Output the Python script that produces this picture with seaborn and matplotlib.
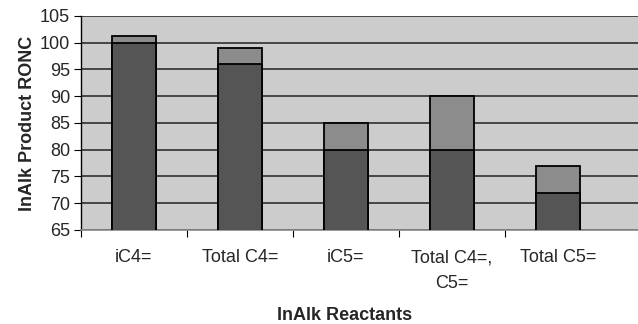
import matplotlib
matplotlib.use("Agg")
import matplotlib.pyplot as plt
import seaborn as sns
import pandas as pd
from matplotlib.ticker import FixedLocator

categories = ["iC4=", "Total C4=", "iC5=", "Total C4=,\nC5=", "Total C5="]
base_values = [100, 96, 80, 80, 72]
top_values = [101.3, 99, 85, 90, 77]

sns.set_style("white")
plt.rcParams['font.family'] = ['Liberation Sans', 'DejaVu Sans']

df = pd.DataFrame({"cat": categories, "base": base_values, "top": top_values})

fig = plt.figure(figsize=(6.38, 3.24), dpi=100)
ax = fig.add_axes([81/638, 1 - 230/324, (638 - 81)/638, (230 - 16)/324])
ax.set_facecolor("#cccccc")

sns.barplot(data=df, x="cat", y="top", color="#8c8c8c", saturation=1, width=0.41,
            edgecolor="black", linewidth=1.3, ax=ax, zorder=3)
sns.barplot(data=df, x="cat", y="base", color="#555555", saturation=1, width=0.41,
            edgecolor="black", linewidth=1.3, ax=ax, zorder=4)

ax.set_ylim(65, 105)
ax.set_xlim(-0.5, -0.5 + 557/106)
ax.set_yticks(range(65, 106, 5))
ax.yaxis.grid(True, color="#222222", linewidth=1.1, zorder=1)
ax.set_axisbelow(True)

ax.xaxis.set_minor_locator(FixedLocator([-0.5, 0.5, 1.5, 2.5, 3.5]))
ax.tick_params(axis="x", which="major", length=0, labelsize=13, pad=14)
ax.tick_params(axis="x", which="minor", length=5, width=0.8, color="black", direction="out", bottom=True)
ax.tick_params(axis="y", length=5, width=0.8, color="black", direction="out", labelsize=13, pad=3, left=True)
for lbl in ax.get_xticklabels():
    lbl.set_linespacing(1.62)

for s in ["top", "right"]:
    ax.spines[s].set_visible(False)
ax.spines["left"].set_color("black")
ax.spines["left"].set_linewidth(1)
ax.spines["bottom"].set_color("#888888")
ax.spines["bottom"].set_linewidth(1.2)

ax.set_xlabel("InAlk Reactants", fontsize=13, fontweight="bold", va="center")
ax.set_ylabel("InAlk Product RONC", fontsize=13, fontweight="bold", va="center")
ax.xaxis.set_label_coords((345 - 81)/557, -(316 - 230)/214)
ax.yaxis.set_label_coords(-(81 - 27)/557, (230 - 123)/214)

fig.savefig("out.png", dpi=100)
